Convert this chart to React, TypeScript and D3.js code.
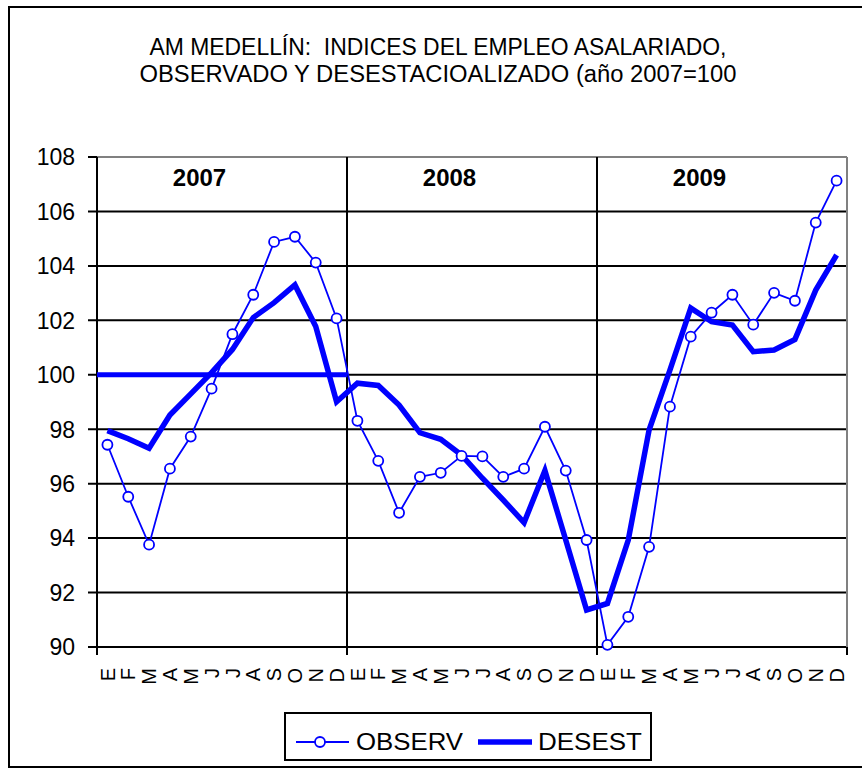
import React from 'react'
import * as d3 from 'd3'

const months = ['E', 'F', 'M', 'A', 'M', 'J', 'J', 'A', 'S', 'O', 'N', 'D']
const years = ['2007', '2008', '2009']

const observ = [
  97.43, 95.52, 93.76, 96.55, 97.73, 99.49, 101.49, 102.94, 104.88, 105.07, 104.12, 102.07,
  98.31, 96.84, 94.93, 96.25, 96.4, 97.02, 97.0, 96.25, 96.55, 98.09, 96.48, 93.93,
  90.08, 91.11, 93.68, 98.83, 101.4, 102.28, 102.94, 101.84, 103.01, 102.72, 105.59, 107.13
]

const desest = [
  97.95, 97.65, 97.3, 98.52, 99.3, 100.08, 100.93, 102.1, 102.65, 103.3, 101.77, 99.01,
  99.69, 99.61, 98.89, 97.87, 97.63, 97.05, 96.2, 95.4, 94.57, 96.48, 93.93, 91.36,
  91.6, 93.93, 97.97, 100.17, 102.45, 101.95, 101.83, 100.85, 100.91, 101.3, 103.11, 104.4
]

// base year average (2007 = 100)
const base2007 = 100

const yTicks = [90, 92, 94, 96, 98, 100, 102, 104, 106, 108]

const titleLines = [
  'AM MEDELLÍN:  INDICES DEL EMPLEO ASALARIADO,',
  'OBSERVADO Y DESESTACIOALIZADO (año 2007=100'
]

const BLUE = '#0000ff'
const FONT = 'Arial, "Liberation Sans", sans-serif'

export default function App() {
  const width = 862,
    height = 768,
    left = 97,
    right = 847,
    top = 157,
    bottom = 647

  const cats = d3.range(observ.length).map(String)
  const x = d3.scaleBand().domain(cats).range([left, right]).padding(0)
  const xc = (i: number) => (x(String(i)) as number) + x.bandwidth() / 2
  const y = d3.scaleLinear().domain([90, 108]).range([bottom, top])

  const line = d3
    .line<number>()
    .x((d, i) => xc(i))
    .y(d => y(d))

  const yearScale = d3.scaleBand().domain(years).range([left, right])

  const labels = years.flatMap(() => months)

  return (
    <svg
      width={width}
      height={height}
      style={{ position: 'absolute', left: 0, top: 0, background: '#fff' }}
      fontFamily={FONT}>
      <rect x={9} y={7} width={870} height={760} fill='#fff' stroke='#000' strokeWidth={2} />

      {titleLines.map((t, i) => (
        <text
          key={i}
          x={438}
          y={55 + i * 27}
          textAnchor='middle'
          fontSize={23}
          style={{ whiteSpace: 'pre' }}
          textLength={i === 0 ? 577 : 597}
          lengthAdjust='spacingAndGlyphs'>
          {t}
        </text>
      ))}

      {/* horizontal grid */}
      {yTicks.map(t => (
        <g key={t}>
          <line
            x1={left - 9}
            x2={right}
            y1={y(t)}
            y2={y(t)}
            stroke='#000'
            strokeWidth={2}
          />
          <text x={75} y={y(t)} dy='0.36em' textAnchor='end' fontSize={23}>
            {t}
          </text>
        </g>
      ))}
      <line x1={left} x2={right} y1={top} y2={top} stroke='#808080' strokeWidth={2} />

      {/* year separators */}
      {years.map(yr => (
        <line
          key={yr}
          x1={yearScale(yr)}
          x2={yearScale(yr)}
          y1={top}
          y2={bottom + 8}
          stroke='#000'
          strokeWidth={2}
        />
      ))}
      <line x1={right} x2={right} y1={top} y2={bottom} stroke='#808080' strokeWidth={2} />
      <line x1={right} x2={right} y1={bottom} y2={bottom + 8} stroke='#000' strokeWidth={2} />

      {years.map(yr => (
        <text
          key={yr}
          x={(yearScale(yr) as number) + yearScale.bandwidth() * 0.41}
          y={186}
          textAnchor='middle'
          fontSize={24}
          fontWeight='bold'>
          {yr}
        </text>
      ))}

      {/* x labels */}
      {labels.map((m, i) => (
        <text
          key={i}
          transform={`translate(${xc(i)},668) rotate(-90)`}
          dy='0.36em'
          textAnchor='end'
          fontSize={20}>
          {m}
        </text>
      ))}

      {/* base line 2007 = 100 */}
      <line
        x1={yearScale(years[0])}
        x2={(yearScale(years[0]) as number) + yearScale.bandwidth()}
        y1={y(base2007)}
        y2={y(base2007)}
        stroke={BLUE}
        strokeWidth={5}
      />

      <path d={line(desest) || ''} fill='none' stroke={BLUE} strokeWidth={5.5} strokeLinejoin='miter' />
      <path d={line(observ) || ''} fill='none' stroke={BLUE} strokeWidth={1.8} />
      {observ.map((v, i) => (
        <circle key={i} cx={xc(i)} cy={y(v)} r={5} fill='#fff' stroke={BLUE} strokeWidth={1.8} />
      ))}

      {/* legend */}
      <g>
        <rect x={285} y={713} width={366} height={47} fill='#fff' stroke='#000' strokeWidth={2} />
        <line x1={296} x2={349} y1={742} y2={742} stroke={BLUE} strokeWidth={1.8} />
        <circle cx={320} cy={742} r={5} fill='#fff' stroke={BLUE} strokeWidth={1.8} />
        <text x={356} y={750} fontSize={23} textLength={107} lengthAdjust='spacingAndGlyphs'>
          OBSERV
        </text>
        <line x1={478} x2={532} y1={742} y2={742} stroke={BLUE} strokeWidth={5.5} />
        <text x={538} y={750} fontSize={23} textLength={104} lengthAdjust='spacingAndGlyphs'>
          DESEST
        </text>
      </g>
    </svg>
  )
}
